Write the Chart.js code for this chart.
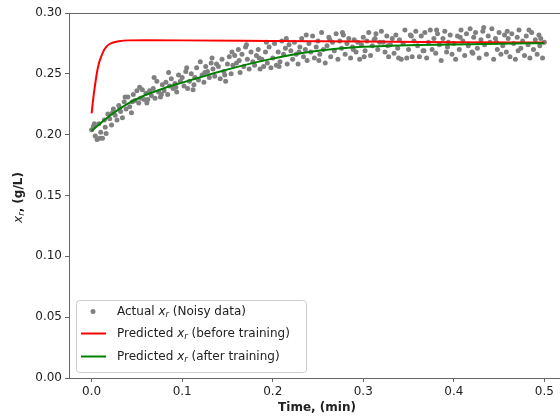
<html>

<head>
    <script src="https://cdn.jsdelivr.net/npm/chart.js@4.4.0/dist/chart.umd.min.js"></script>
    <style>
        body {
            margin: 0;
            overflow: hidden;
            background: #ffffff;
        }

        .chartBox {
            width: 580px;
            height: 419px;
        }
    </style>
</head>

<body>
    <div class="chartBox">
        <canvas id="myChart" width="580" height="419"></canvas>
    </div>
</body>
<script>
    // noisy measurements (time in min, x_r in g/L)
    const noisyTime = [
        0.000, 0.002, 0.004, 0.006, 0.008, 0.010, 0.012, 0.014, 0.016, 0.018,
        0.020, 0.022, 0.024, 0.026, 0.028, 0.030, 0.032, 0.034, 0.036, 0.038,
        0.040, 0.042, 0.044, 0.046, 0.048, 0.050, 0.052, 0.054, 0.056, 0.058,
        0.060, 0.062, 0.064, 0.066, 0.068, 0.070, 0.072, 0.074, 0.076, 0.078,
        0.080, 0.082, 0.084, 0.086, 0.088, 0.090, 0.092, 0.094, 0.096, 0.098,
        0.100, 0.102, 0.104, 0.106, 0.108, 0.110, 0.112, 0.114, 0.116, 0.118,
        0.120, 0.122, 0.124, 0.126, 0.128, 0.130, 0.132, 0.134, 0.136, 0.138,
        0.140, 0.142, 0.144, 0.146, 0.148, 0.150, 0.152, 0.154, 0.156, 0.158,
        0.160, 0.162, 0.164, 0.166, 0.168, 0.170, 0.172, 0.174, 0.176, 0.178,
        0.180, 0.182, 0.184, 0.186, 0.188, 0.190, 0.192, 0.194, 0.196, 0.198,
        0.200, 0.202, 0.204, 0.206, 0.208, 0.210, 0.212, 0.214, 0.216, 0.218,
        0.220, 0.222, 0.224, 0.226, 0.228, 0.230, 0.232, 0.234, 0.236, 0.238,
        0.240, 0.242, 0.244, 0.246, 0.248, 0.250, 0.252, 0.254, 0.256, 0.258,
        0.260, 0.262, 0.264, 0.266, 0.268, 0.270, 0.272, 0.274, 0.276, 0.278,
        0.280, 0.282, 0.284, 0.286, 0.288, 0.290, 0.292, 0.294, 0.296, 0.298,
        0.300, 0.302, 0.304, 0.306, 0.308, 0.310, 0.312, 0.314, 0.316, 0.318,
        0.320, 0.322, 0.324, 0.326, 0.328, 0.330, 0.332, 0.334, 0.336, 0.338,
        0.340, 0.342, 0.344, 0.346, 0.348, 0.350, 0.352, 0.354, 0.356, 0.358,
        0.360, 0.362, 0.364, 0.366, 0.368, 0.370, 0.372, 0.374, 0.376, 0.378,
        0.380, 0.382, 0.384, 0.386, 0.388, 0.390, 0.392, 0.394, 0.396, 0.398,
        0.400, 0.402, 0.404, 0.406, 0.408, 0.410, 0.412, 0.414, 0.416, 0.418,
        0.420, 0.422, 0.424, 0.426, 0.428, 0.430, 0.432, 0.434, 0.436, 0.438,
        0.440, 0.442, 0.444, 0.446, 0.448, 0.450, 0.452, 0.454, 0.456, 0.458,
        0.460, 0.462, 0.464, 0.466, 0.468, 0.470, 0.472, 0.474, 0.476, 0.478,
        0.480, 0.482, 0.484, 0.486, 0.488, 0.490, 0.492, 0.494, 0.496, 0.498,
        0.500
    ];
    const noisyValues = [
        0.204, 0.207, 0.199, 0.196, 0.209, 0.202, 0.197, 0.212, 0.201, 0.217,
        0.213, 0.208, 0.221, 0.216, 0.212, 0.224, 0.219, 0.214, 0.227, 0.221,
        0.231, 0.223, 0.218, 0.233, 0.228, 0.236, 0.226, 0.230, 0.237, 0.229,
        0.234, 0.229, 0.236, 0.232, 0.238, 0.230, 0.244, 0.235, 0.231, 0.241,
        0.236, 0.243, 0.233, 0.240, 0.246, 0.238, 0.242, 0.235, 0.249, 0.244,
        0.247, 0.240, 0.252, 0.238, 0.244, 0.250, 0.237, 0.247, 0.255, 0.245,
        0.260, 0.249, 0.243, 0.256, 0.252, 0.247, 0.259, 0.254, 0.248, 0.258,
        0.256, 0.246, 0.262, 0.252, 0.244, 0.258, 0.264, 0.250, 0.257, 0.265,
        0.259, 0.270, 0.251, 0.266, 0.256, 0.272, 0.262, 0.254, 0.268, 0.260,
        0.257, 0.265, 0.270, 0.254, 0.262, 0.256, 0.268, 0.259, 0.272, 0.255,
        0.263, 0.275, 0.257, 0.268, 0.260, 0.277, 0.266, 0.271, 0.258, 0.274,
        0.269, 0.262, 0.276, 0.266, 0.258, 0.272, 0.279, 0.264, 0.270, 0.261,
        0.275, 0.268, 0.281, 0.263, 0.272, 0.277, 0.266, 0.284, 0.270, 0.259,
        0.273, 0.280, 0.264, 0.276, 0.269, 0.283, 0.262, 0.277, 0.271, 0.282,
        0.266, 0.275, 0.279, 0.263, 0.272, 0.278, 0.268, 0.276, 0.262, 0.274,
        0.280, 0.269, 0.277, 0.284, 0.265, 0.273, 0.278, 0.283, 0.270, 0.276,
        0.285, 0.276, 0.268, 0.281, 0.264, 0.274, 0.279, 0.267, 0.282, 0.271,
        0.278, 0.262, 0.275, 0.286, 0.263, 0.270, 0.282, 0.264, 0.277, 0.285,
        0.273, 0.264, 0.281, 0.269, 0.284, 0.263, 0.276, 0.286, 0.270, 0.279,
        0.267, 0.283, 0.274, 0.261, 0.279, 0.285, 0.268, 0.276, 0.282, 0.266,
        0.275, 0.262, 0.281, 0.270, 0.286, 0.277, 0.265, 0.283, 0.273, 0.287,
        0.268, 0.280, 0.284, 0.271, 0.263, 0.278, 0.285, 0.274, 0.266, 0.281,
        0.276, 0.287, 0.262, 0.279, 0.270, 0.284, 0.266, 0.273, 0.282, 0.268,
        0.279, 0.264, 0.283, 0.275, 0.262, 0.280, 0.286, 0.271, 0.277, 0.265,
        0.281, 0.274, 0.263, 0.284, 0.270, 0.278, 0.266, 0.282, 0.279, 0.263,
        0.276
    ];
    // further measurements between the regular samples
    const extraTime = [
        0.003, 0.009, 0.015, 0.023, 0.031, 0.037, 0.045, 0.053, 0.061, 0.069,
        0.077, 0.085, 0.093, 0.105, 0.113, 0.125, 0.133, 0.147, 0.155, 0.163,
        0.171, 0.185, 0.193, 0.207, 0.215, 0.229, 0.237, 0.251, 0.263, 0.277,
        0.289, 0.301, 0.313, 0.327, 0.339, 0.353, 0.367, 0.381, 0.393, 0.407,
        0.421, 0.433, 0.447, 0.459, 0.471, 0.483, 0.495
    ];
    const extraValues = [
        0.209, 0.197, 0.206, 0.218, 0.222, 0.231, 0.227, 0.239, 0.226, 0.247,
        0.233, 0.251, 0.239, 0.255, 0.241, 0.251, 0.263, 0.249, 0.268, 0.261,
        0.274, 0.263, 0.276, 0.256, 0.279, 0.268, 0.282, 0.261, 0.278, 0.284,
        0.270, 0.264, 0.279, 0.273, 0.263, 0.281, 0.269, 0.286, 0.272, 0.280,
        0.267, 0.288, 0.276, 0.285, 0.269, 0.286, 0.273
    ];

    // model before training
    const beforeTime = [0.000, 0.002, 0.004, 0.006, 0.008, 0.010, 0.013, 0.016, 0.020, 0.025, 0.030, 0.040, 0.060, 0.100, 0.200, 0.300, 0.400, 0.500];
    const beforeValues = [0.2175, 0.2310, 0.2420, 0.2515, 0.2585, 0.2630, 0.2685, 0.2720, 0.2745, 0.2760, 0.2768, 0.2775, 0.2776, 0.2775, 0.2770, 0.2765, 0.2760, 0.2757];

    // model after training
    const afterTime = [0.00, 0.01, 0.02, 0.03, 0.04, 0.05, 0.06, 0.08, 0.10, 0.12, 0.14, 0.16, 0.18, 0.20, 0.22, 0.24, 0.26, 0.28, 0.30, 0.33, 0.36, 0.40, 0.45, 0.50];
    const afterValues = [0.2030, 0.2095, 0.2155, 0.2208, 0.2255, 0.2293, 0.2328, 0.2382, 0.2428, 0.2472, 0.2515, 0.2555, 0.2592, 0.2625, 0.2655, 0.2680, 0.2698, 0.2712, 0.2722, 0.2730, 0.2736, 0.2742, 0.2748, 0.2752];

    const xTicks = [0.0, 0.1, 0.2, 0.3, 0.4, 0.5];
    const yTicks = [0.00, 0.05, 0.10, 0.15, 0.20, 0.25, 0.30];

    const FONT = '"DejaVu Sans"';
    const spineColor = '#666666';
    const textColor = '#222222';

    function toPoints(xs, ys) {
        return xs.map((x, i) => ({ x: x, y: ys[i] }));
    }

    function drawParts(ctx, parts, x, y) {
        let cx = x;
        parts.forEach(p => {
            ctx.font = p.font;
            ctx.fillText(p.text, cx, y + (p.dy || 0));
            cx += ctx.measureText(p.text).width;
        });
    }

    function partsWidth(ctx, parts) {
        let w = 0;
        parts.forEach(p => {
            ctx.font = p.font;
            w += ctx.measureText(p.text).width;
        });
        return w;
    }

    const fNormal = '12px ' + FONT;
    const fItalic = 'italic 12px ' + FONT;
    const fSub = 'italic 8.5px ' + FONT;
    const fBold = 'bold 12px ' + FONT;

    function xr(after) {
        return [
            { text: 'x', font: fItalic },
            { text: 'r', font: fSub, dy: 3 },
            { text: after, font: fNormal }
        ];
    }

    const extrasPlugin = {
        id: 'extras',
        afterDatasetsDraw(chart) {
            const ctx = chart.ctx;
            const area = chart.chartArea;
            ctx.save();

            // top spine
            ctx.strokeStyle = spineColor;
            ctx.lineWidth = 1;
            ctx.beginPath();
            ctx.moveTo(area.left, area.top + 0.5);
            ctx.lineTo(area.right, area.top + 0.5);
            ctx.stroke();

            // legend
            const lx = area.left + 7;
            const ly = area.bottom - 78;
            const lw = 230;
            const lh = 72;
            ctx.beginPath();
            ctx.roundRect(lx + 0.5, ly + 0.5, lw, lh, 3);
            ctx.fillStyle = 'rgba(255,255,255,0.8)';
            ctx.fill();
            ctx.strokeStyle = '#cccccc';
            ctx.stroke();

            const rows = [
                { kind: 'dot', color: '#808080', parts: [{ text: 'Actual ', font: fNormal }].concat(xr(' (Noisy data)')) },
                { kind: 'line', color: '#ff0000', parts: [{ text: 'Predicted ', font: fNormal }].concat(xr(' (before training)')) },
                { kind: 'line', color: '#008000', parts: [{ text: 'Predicted ', font: fNormal }].concat(xr(' (after training)')) }
            ];
            const rowY = [11.5, 33.5, 56.5];
            rows.forEach((r, i) => {
                const cy = ly + rowY[i];
                if (r.kind === 'dot') {
                    ctx.fillStyle = r.color;
                    ctx.beginPath();
                    ctx.arc(lx + 17, cy, 2.5, 0, Math.PI * 2);
                    ctx.fill();
                } else {
                    ctx.strokeStyle = r.color;
                    ctx.lineWidth = 2;
                    ctx.beginPath();
                    ctx.moveTo(lx + 5, cy);
                    ctx.lineTo(lx + 30, cy);
                    ctx.stroke();
                }
                ctx.fillStyle = textColor;
                ctx.textBaseline = 'middle';
                ctx.textAlign = 'left';
                drawParts(ctx, r.parts, lx + 41, cy);
            });

            // x axis title
            ctx.fillStyle = textColor;
            ctx.font = fBold;
            ctx.textAlign = 'center';
            ctx.textBaseline = 'middle';
            ctx.fillText('Time, (min)', (area.left + area.right) / 2 - 1, 408);

            // y axis title
            const yParts = [
                { text: 'x', font: fItalic },
                { text: 'r', font: fSub, dy: 3 },
                { text: ', (g/L)', font: fBold }
            ];
            ctx.textAlign = 'left';
            const w = partsWidth(ctx, yParts);
            ctx.translate(19, (area.top + area.bottom) / 2 + 2);
            ctx.rotate(-Math.PI / 2);
            drawParts(ctx, yParts, -w / 2, 0);

            ctx.restore();
        }
    };

    function axisOptions(min, max, ticks, digits) {
        return {
            type: 'linear',
            min: min,
            max: max,
            afterBuildTicks: s => { s.ticks = ticks.map(v => ({ value: v })); },
            ticks: {
                autoSkip: false,
                maxRotation: 0,
                padding: 3,
                color: textColor,
                font: { family: FONT, size: 12 },
                callback: v => Number(v).toFixed(digits)
            },
            grid: {
                drawOnChartArea: false,
                drawTicks: true,
                tickLength: 4,
                color: spineColor
            },
            border: { color: spineColor, width: 1 }
        };
    }

    const xAxis = axisOptions(-0.025, 0.525, xTicks, 1);
    xAxis.afterFit = s => { s.height = 41; };
    const yAxis = axisOptions(0, 0.30, yTicks, 2);
    yAxis.afterFit = s => { s.width = 69; };

    new Chart('myChart', {
        type: 'scatter',
        data: {
            datasets: [{
                label: 'Actual x_r (Noisy data)',
                data: toPoints(noisyTime, noisyValues).concat(toPoints(extraTime, extraValues)),
                backgroundColor: '#808080',
                borderColor: '#808080',
                pointRadius: 2.5,
                pointBorderWidth: 0,
                order: 2
            }, {
                label: 'Predicted x_r (before training)',
                data: toPoints(beforeTime, beforeValues),
                showLine: true,
                borderColor: '#ff0000',
                borderWidth: 2,
                pointRadius: 0,
                cubicInterpolationMode: 'monotone',
                order: 1
            }, {
                label: 'Predicted x_r (after training)',
                data: toPoints(afterTime, afterValues),
                showLine: true,
                borderColor: '#008000',
                borderWidth: 2,
                pointRadius: 0,
                cubicInterpolationMode: 'monotone',
                order: 0
            }]
        },
        options: {
            responsive: false,
            animation: false,
            devicePixelRatio: 1,
            layout: { padding: { top: 13, right: 13, left: 0, bottom: 0 } },
            scales: { x: xAxis, y: yAxis },
            plugins: {
                legend: { display: false },
                tooltip: { enabled: false }
            }
        },
        plugins: [extrasPlugin]
    });
</script>

</html>
